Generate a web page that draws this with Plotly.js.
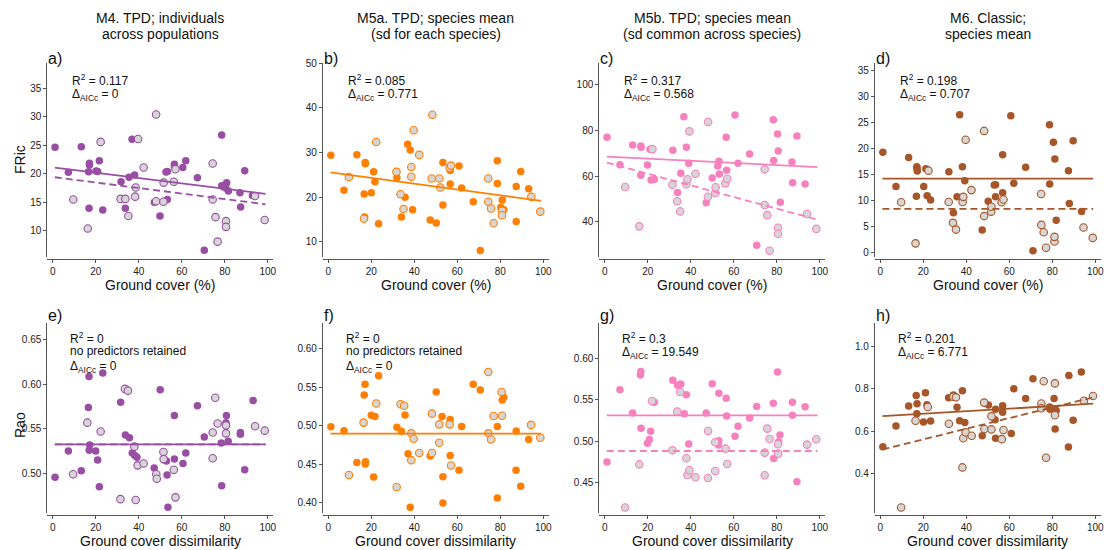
<!DOCTYPE html>
<html><head><meta charset="utf-8">
<script src="https://cdn.plot.ly/plotly-3.0.1.min.js"></script>
<style>html,body{margin:0;padding:0;background:#fff}#chart{width:1105px;height:550px}</style>
</head><body><div id="chart"></div>
<script>
// ---------- data ----------
const colTitles1 = ["M4. TPD; individuals","M5a. TPD; species mean","M5b. TPD; species mean","M6. Classic;"];
const colTitles2 = ["across populations","(sd for each species)","(sd common across species)","species mean"];
const panelLabels = ["a)","b)","c)","d)","e)","f)","g)","h)"];
const r2Text = ["0.117","0.085","0.317","0.198","0","0","0.3","0.201"];
const aicText = ["0","0.771","0.568","0.707","0","0","19.549","6.771"];
const xTicks = [0,20,40,60,80,100];

// a) FRic M4
const a_fx=[1.1,7.3,13.3,17.1,17.1,16.7,16.9,20.2,20.9,21.7,23.3,31.8,33.8,35.5,36.9,38.1,47.3,49.9,53.3,52.7,53.3,56.6,56.6,60.5,61.9,67.3,70.5,78.6,78.6,79.5,80.9,80.5,81.7,87.1,87.4,89.3,92.9];
const a_fy=[24.65,20.26,24.77,21.84,21.55,20.38,13.95,20.5,20.4,22.3,13.65,18.6,13.95,19.4,26.05,19.8,15.0,12.6,15.5,20.3,20.4,21.7,21.25,21.1,22.3,19.3,6.6,26.8,17.9,17.75,18.45,17.5,17.0,16.7,14.2,20.55,16.2];
const a_gx=[9.6,16.3,22.3,31.6,33.8,35.2,38.3,38.6,39.7,42.3,48.1,48.1,51.5,51.6,56.3,57.1,74.4,74.4,75.7,76.7,80.6,80.6,94.1,98.6];
const a_gy=[15.5,10.4,25.6,15.6,15.6,12.6,16.0,17.6,26.1,21.1,30.4,15.2,15.1,18.45,18.6,20.8,21.8,15.5,12.4,8.1,11.7,10.7,16.1,11.9];
const a_sx=[1,99], a_sy=[21.1,16.5];
const a_dx=[1,99], a_dy=[19.4,14.65];

// b) FRic M5a
const b_fx=[1.2,7.3,13.3,17.2,17.2,16.7,16.9,20.0,21.1,21.7,23.4,31.9,34.0,35.7,36.9,38.1,39.2,47.4,50.2,53.3,53.3,56.7,56.7,60.8,62.0,67.4,70.7,78.6,78.6,80.2,80.9,81.6,87.4,87.4,89.5,93.2];
const b_fy=[29.4,21.6,29.55,27.8,27.5,20.75,15.6,21.0,25.75,23.5,14.1,24.4,15.6,20.0,31.9,30.6,17.2,14.9,14.25,27.8,18.3,26.0,23.0,27.0,22.1,19.0,8.1,28.2,23.1,17.7,19.4,17.2,22.4,14.6,25.8,21.9];
const b_gx=[9.6,16.6,22.3,31.7,33.6,35.0,38.6,38.6,39.7,42.3,48.4,48.1,51.6,52.1,56.4,57.1,74.4,74.4,75.7,76.9,80.8,80.8,94.4,98.6];
const b_gy=[24.55,15.2,32.4,25.7,20.7,17.4,24.6,26.8,35.0,29.5,38.5,24.2,24.2,22.2,26.6,27.1,24.2,19.0,17.5,14.2,17.0,16.0,20.1,16.8];
const b_sx=[1,99], b_sy=[25.6,19.2];

// c) FRic M5b
const c_fx=[1.1,7.1,13.0,16.8,16.9,16.8,19.9,21.1,21.6,23.1,31.7,33.9,35.4,36.8,38.0,39.1,47.2,50.0,53.1,52.6,53.3,56.5,56.7,60.6,62.0,67.4,70.7,78.4,78.6,80.4,80.7,81.7,87.1,87.4,89.4,93.2];
const c_fy=[76.8,64.9,73.5,73.0,72.5,60.3,64.8,71.6,58.3,58.6,71.2,52.8,61.2,85.8,72.5,65.5,48.4,59.1,66.4,64.3,60.9,76.8,62.5,86.5,65.5,69.6,29.9,84.5,66.7,78.3,70.9,48.6,66.1,57.1,77.4,56.5];
const c_gx=[9.5,16.1,22.2,31.5,33.7,35.1,38.0,38.5,39.4,42.2,48.1,48.0,51.4,51.6,56.1,57.0,74.4,74.4,75.6,76.7,80.6,80.6,94.1,98.4];
const c_gy=[55.2,38.1,71.7,56.2,49.0,44.6,56.4,58.6,79.4,61.0,83.5,51.0,52.6,55.1,56.8,58.8,62.9,47.4,43.0,27.5,37.5,34.9,43.5,37.0];
const c_sx=[1,99], c_sy=[68.4,63.9];
const c_dx=[1,99], c_dy=[65.8,41.0];

// d) FRic M6
const d_fx=[1.2,7.3,13.2,17.0,17.1,17.2,16.8,20.2,21.2,21.8,23.4,31.9,34.0,35.7,36.9,38.2,39.3,47.4,50.2,53.0,53.6,53.6,56.9,56.9,60.7,62.1,67.6,71.0,78.7,78.8,80.5,81.2,81.8,87.5,87.9,89.7,93.6];
const d_fy=[19.3,12.7,18.3,16.5,16.2,15.7,10.8,12.7,16.1,10.9,10.1,15.55,7.65,10.7,26.5,16.5,13.8,4.3,9.85,13.0,13.05,10.7,18.8,11.5,26.3,13.3,16.4,0.3,24.6,13.2,21.2,18.0,6.2,15.75,9.4,21.5,7.9];
const d_gx=[9.7,16.4,22.4,31.8,33.8,35.2,38.3,38.6,39.7,42.4,48.3,48.3,51.6,51.7,56.4,57.3,74.8,74.9,76.0,77.1,81.0,81.0,94.5,98.8];
const d_gy=[9.65,1.75,15.75,9.7,5.7,4.4,9.7,10.7,21.7,12.0,23.4,7.0,7.85,8.8,9.65,10.2,11.25,5.3,3.9,0.9,2.1,3.0,4.8,2.8];
const d_sx=[1,99], d_sy=[14.2,14.2];
const d_dx=[1,99], d_dy=[8.4,8.4];

// e) Rao M4
const e_fx=[1.1,7.3,13.3,16.9,16.6,17.2,17.0,20.0,20.9,21.7,23.3,31.6,33.8,35.7,37.0,38.2,39.2,47.2,50.0,52.9,53.2,53.6,56.6,56.6,60.6,61.9,67.3,70.5,78.4,78.6,80.8,80.6,81.6,87.3,87.3,89.3,93.2];
const e_fy=[0.4955,0.525,0.503,0.609,0.574,0.532,0.526,0.525,0.515,0.485,0.613,0.580,0.543,0.540,0.523,0.520,0.518,0.506,0.594,0.514,0.498,0.462,0.565,0.516,0.511,0.523,0.576,0.541,0.534,0.486,0.565,0.557,0.536,0.544,0.546,0.504,0.582];
const e_gx=[9.5,16.1,22.3,31.5,33.6,35.0,38.0,38.6,39.5,42.3,48.2,48.4,51.5,51.6,56.3,57.1,74.4,74.4,75.6,76.7,80.6,80.6,94.1,98.6];
const e_gy=[0.499,0.557,0.547,0.471,0.595,0.593,0.530,0.470,0.509,0.511,0.499,0.494,0.524,0.516,0.504,0.473,0.546,0.517,0.585,0.556,0.545,0.554,0.553,0.548];
const e_sx=[1,99], e_sy=[0.5326,0.5326];
const e_dx=[1,99], e_dy=[0.5326,0.5326];

// f) Rao M5a
const f_fx=[1.2,7.3,13.3,17.1,16.7,17.3,17.2,20.0,21.7,21.1,23.4,31.9,34.0,35.7,37.1,38.1,47.4,50.2,52.9,53.3,53.3,56.7,56.7,60.8,62.0,67.4,70.7,78.6,78.6,80.9,81.6,87.4,87.3,89.5,93.2];
const f_fy=[0.4987,0.4935,0.452,0.554,0.540,0.453,0.450,0.5135,0.512,0.433,0.565,0.498,0.4926,0.514,0.4635,0.3935,0.4604,0.544,0.512,0.4335,0.399,0.508,0.461,0.442,0.499,0.554,0.5465,0.4057,0.499,0.5335,0.537,0.493,0.442,0.421,0.482];
const f_gx=[9.6,16.4,22.3,31.8,33.6,35.3,38.6,38.6,39.7,42.3,48.2,48.2,51.6,51.6,56.4,57.1,74.4,74.4,75.7,76.9,80.6,80.8,94.3,98.6];
const f_gy=[0.4357,0.504,0.529,0.420,0.528,0.526,0.490,0.455,0.483,0.4643,0.5157,0.4643,0.5017,0.4778,0.5017,0.448,0.570,0.490,0.482,0.5126,0.544,0.513,0.501,0.4843];
const f_sx=[1,99], f_sy=[0.4896,0.4896];

// g) Rao M5b
const g_fx=[1.1,7.1,13.0,16.8,16.6,16.9,19.9,20.8,21.4,23.1,31.7,33.9,35.4,37.0,38.0,39.1,47.2,50.0,53.1,53.1,52.9,56.5,56.7,60.6,62.0,67.4,70.7,78.4,78.6,80.4,80.9,81.5,87.3,87.3,89.4,93.2];
const g_fy=[0.475,0.562,0.534,0.584,0.580,0.5155,0.4975,0.502,0.512,0.547,0.5735,0.5674,0.569,0.533,0.556,0.4967,0.534,0.5694,0.558,0.5007,0.4955,0.5517,0.5304,0.5059,0.518,0.528,0.542,0.5457,0.479,0.5835,0.4995,0.5075,0.547,0.5312,0.4512,0.5417];
const g_gx=[9.5,16.1,22.0,31.5,33.7,35.1,38.0,38.5,39.4,42.2,48.1,48.0,51.4,51.4,56.2,57.0,74.4,74.4,75.6,76.7,80.6,80.7,94.1,98.4];
const g_gy=[0.420,0.472,0.5485,0.489,0.5357,0.5594,0.4794,0.4593,0.4649,0.4565,0.5123,0.4556,0.4641,0.4987,0.491,0.4725,0.4862,0.4589,0.5152,0.5027,0.4963,0.485,0.4959,0.5023];
const g_sx=[1,99], g_sy=[0.5312,0.5312];
const g_dx=[1,99], g_dy=[0.4882,0.4882];

// h) Rao M6
const h_fx=[1.2,7.3,13.2,16.7,17.1,17.0,20.1,21.0,21.7,23.4,31.8,34.0,35.7,36.9,38.2,39.3,47.4,50.3,53.6,53.4,53.6,56.9,56.9,60.9,62.1,67.6,71.0,78.8,78.9,80.8,81.3,81.8,87.7,87.5,89.7,93.5];
const h_fy=[0.526,0.624,0.719,0.769,0.730,0.682,0.643,0.782,0.725,0.648,0.758,0.771,0.7125,0.649,0.791,0.641,0.578,0.7235,0.703,0.654,0.566,0.720,0.689,0.589,0.801,0.755,0.848,0.714,0.703,0.755,0.610,0.698,0.864,0.5245,0.651,0.880];
const h_gx=[9.7,16.4,22.1,31.9,34.0,35.2,38.2,38.6,39.7,42.5,48.3,48.4,51.7,51.7,56.5,57.3,74.9,74.9,76.0,77.1,81.2,81.2,94.7,98.9];
const h_gy=[0.2385,0.649,0.714,0.635,0.763,0.760,0.428,0.566,0.594,0.578,0.735,0.610,0.608,0.670,0.562,0.605,0.731,0.708,0.836,0.474,0.826,0.675,0.744,0.766];
const h_sx=[1,99], h_sy=[0.671,0.730];
const h_dx=[1,99], h_dy=[0.513,0.760];

// ---------- layout / drawing ----------
const W=1105, H=550;
const COLORS=['#984EA3','#FF7F00','#F781BF','#A65628'];
const GRAY='#D6D6D6';
const FONT='Liberation Sans, Arial, Helvetica, sans-serif';
const colLeft=[47.3,322.9,599.3,874.9], colRight=[273.1,548.7,825.1,1100.7];
const rowTop=[63,323], rowBot=[257,513];
const yRanges=[[5.41,39.44],[6.64,50.07],[24.78,109.13],[-0.88,36.48],
               [0.4554,0.6691],[0.3861,0.6339],[0.4134,0.6426],[0.2121,1.1121]];
const yDticks=[5,10,20,5,0.05,0.05,0.05,0.2];
const yFormats=['d','d','d','d','.2f','.2f','.2f','.1f'];

const panels=[
 {fx:a_fx,fy:a_fy,gx:a_gx,gy:a_gy,sx:a_sx,sy:a_sy,dx:a_dx,dy:a_dy},
 {fx:b_fx,fy:b_fy,gx:b_gx,gy:b_gy,sx:b_sx,sy:b_sy},
 {fx:c_fx,fy:c_fy,gx:c_gx,gy:c_gy,sx:c_sx,sy:c_sy,dx:c_dx,dy:c_dy},
 {fx:d_fx,fy:d_fy,gx:d_gx,gy:d_gy,sx:d_sx,sy:d_sy,dx:d_dx,dy:d_dy},
 {fx:e_fx,fy:e_fy,gx:e_gx,gy:e_gy,sx:e_sx,sy:e_sy,dx:e_dx,dy:e_dy},
 {fx:f_fx,fy:f_fy,gx:f_gx,gy:f_gy,sx:f_sx,sy:f_sy},
 {fx:g_fx,fy:g_fy,gx:g_gx,gy:g_gy,sx:g_sx,sy:g_sy,dx:g_dx,dy:g_dy},
 {fx:h_fx,fy:h_fy,gx:h_gx,gy:h_gy,sx:h_sx,sy:h_sy,dx:h_dx,dy:h_dy}
];

const px=x=>x/W, py=y=>1-y/H;
const traces=[], annotations=[];
const layout={width:W,height:H,margin:{l:0,r:0,t:0,b:0},paper_bgcolor:'#fff',plot_bgcolor:'rgba(0,0,0,0)',
  showlegend:false,hovermode:false,font:{family:FONT,color:'#222'},annotations:annotations};

panels.forEach((p,i)=>{
  const col=i%4, row=Math.floor(i/4), n=i+1;
  const xa='x'+(n===1?'':n), ya='y'+(n===1?'':n);
  const xk='xaxis'+(n===1?'':n), yk='yaxis'+(n===1?'':n);
  const c=COLORS[col];
  const yd=[py(rowBot[row]),py(rowTop[row])];
  layout[xk]={domain:[px(colLeft[col]),px(colRight[col])],range:[-2.5,102.5],anchor:'free',position:yd[0]-2/H,
    tickvals:xTicks,ticks:'outside',ticklen:3,tickwidth:1,tickcolor:'#555',showline:true,linecolor:'#555',linewidth:1,
    showgrid:false,zeroline:false,tickfont:{family:FONT,size:10,color:'#222'},fixedrange:true};
  layout[yk]={domain:yd,range:yRanges[i],anchor:xa,dtick:yDticks[i],tick0:0,tickformat:yFormats[i],
    ticks:'outside',ticklen:3,tickwidth:1,tickcolor:'#555',showline:true,linecolor:'#555',linewidth:1,
    showgrid:false,zeroline:false,tickfont:{family:FONT,size:10,color:'#222'},fixedrange:true};
  traces.push({type:'scatter',mode:'markers',x:p.fx,y:p.fy,xaxis:xa,yaxis:ya,
    marker:{size:7.5,color:c,line:{width:0}}});
  traces.push({type:'scatter',mode:'markers',x:p.gx,y:p.gy,xaxis:xa,yaxis:ya,
    marker:{size:7.5,color:GRAY,line:{width:1.1,color:c}}});
  traces.push({type:'scatter',mode:'lines',x:p.sx,y:p.sy,xaxis:xa,yaxis:ya,line:{color:c,width:1.8}});
  if(p.dx) traces.push({type:'scatter',mode:'lines',x:p.dx,y:p.dy,xaxis:xa,yaxis:ya,line:{color:c,width:1.8,dash:'7px,4px'}});

  // panel label
  annotations.push({xref:'paper',yref:'paper',x:px(colLeft[col]-1),y:py(row===0?58:315),xanchor:'left',yanchor:'middle',
    text:panelLabels[i],showarrow:false,font:{family:FONT,size:16,color:'#111'}});
  // stats
  const L=colLeft[col]+(row===0?23:21);
  const noPred=(i===4||i===5);
  const yR=row===0?79.5:337.5;
  const yA=row===0?94.5:(noPred?366.5:352.5);
  annotations.push({xref:'paper',yref:'paper',x:px(L),y:py(yR),xanchor:'left',yanchor:'middle',showarrow:false,
    text:'R<sup>2</sup> = '+r2Text[i],font:{family:FONT,size:12,color:'#111'}});
  if(noPred) annotations.push({xref:'paper',yref:'paper',x:px(L),y:py(351),xanchor:'left',yanchor:'middle',showarrow:false,
    text:'no predictors retained',font:{family:FONT,size:12,color:'#111'}});
  annotations.push({xref:'paper',yref:'paper',x:px(L),y:py(yA),xanchor:'left',yanchor:'middle',showarrow:false,
    text:'Δ<sub>AICc</sub> = '+aicText[i],font:{family:FONT,size:12,color:'#111'}});
  // x title
  annotations.push({xref:'paper',yref:'paper',x:px((colLeft[col]+colRight[col])/2),y:py(row===0?285:541),xanchor:'center',yanchor:'middle',showarrow:false,
    text:row===0?'Ground cover (%)':'Ground cover dissimilarity',font:{family:FONT,size:14,color:'#111'}});
});
// column titles
for(let k=0;k<4;k++){
  const cx=px((colLeft[k]+colRight[k])/2);
  annotations.push({xref:'paper',yref:'paper',x:cx,y:py(18),xanchor:'center',yanchor:'middle',showarrow:false,
    text:colTitles1[k],font:{family:FONT,size:14,color:'#111'}});
  annotations.push({xref:'paper',yref:'paper',x:cx,y:py(34),xanchor:'center',yanchor:'middle',showarrow:false,
    text:colTitles2[k],font:{family:FONT,size:14,color:'#111'}});
}
// y titles
annotations.push({xref:'paper',yref:'paper',x:px(20),y:py(160),xanchor:'center',yanchor:'middle',showarrow:false,textangle:-90,
  text:'FRic',font:{family:FONT,size:14,color:'#111'}});
annotations.push({xref:'paper',yref:'paper',x:px(20),y:py(425),xanchor:'center',yanchor:'middle',showarrow:false,textangle:-90,
  text:'Rao',font:{family:FONT,size:14,color:'#111'}});

Plotly.newPlot('chart',traces,layout,{staticPlot:true,displayModeBar:false});
</script>
</body></html>
